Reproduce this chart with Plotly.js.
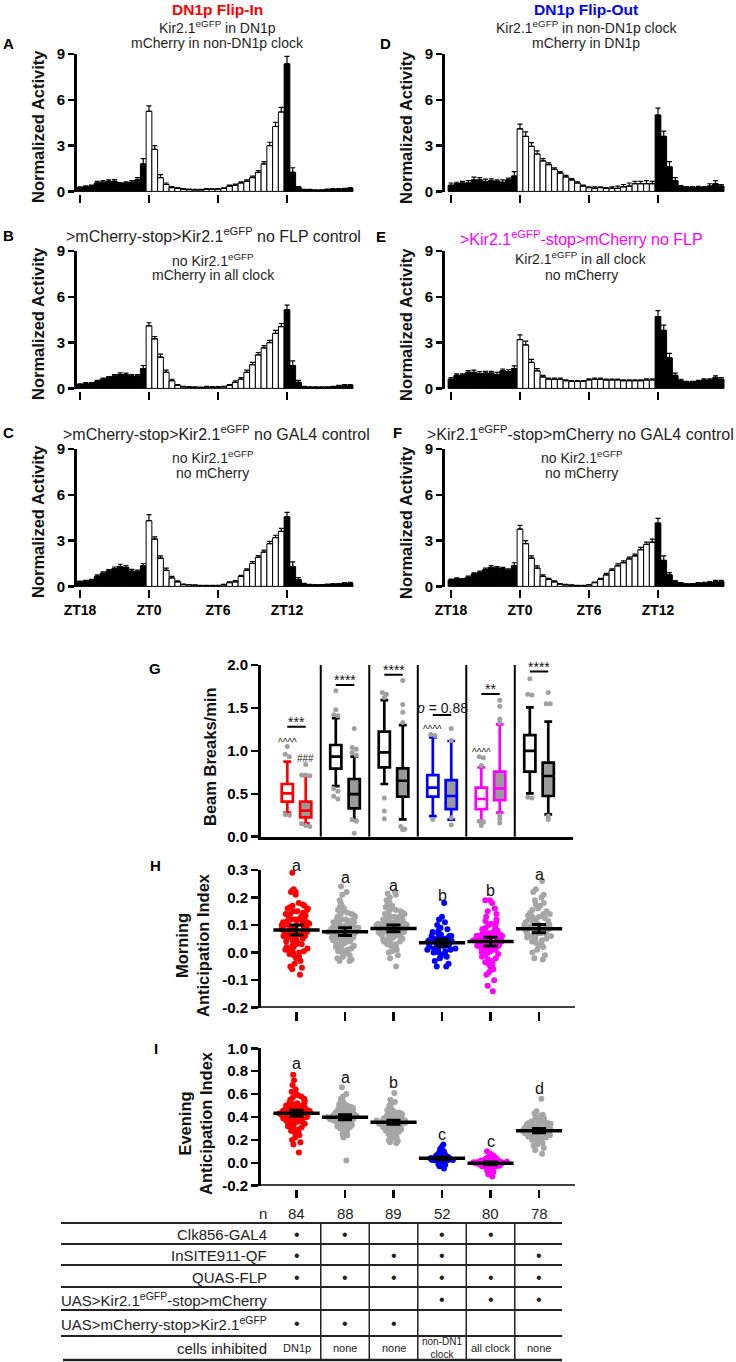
<!DOCTYPE html>
<html><head><meta charset="utf-8">
<script src="https://cdn.plot.ly/plotly-3.0.1.min.js"></script>
<style>html,body{margin:0;padding:0;background:#fff}#chart{width:736px;height:1362px}</style>
</head><body><div id="chart"></div>
<script>
// ---------------- DATA ----------------
// 30-min bins, hours relative to ZT0 (ZT18 = -6)
const binZT = [-6,-5.5,-5,-4.5,-4,-3.5,-3,-2.5,-2,-1.5,-1,-0.5,0,0.5,1,1.5,2,2.5,3,3.5,4,4.5,5,5.5,6,6.5,7,7.5,8,8.5,9,9.5,10,10.5,11,11.5,12,12.5,13,13.5,14,14.5,15,15.5,16,16.5,17,17.5];
const ztTickVals = [-6,0,6,12];
const ztTickText = ['ZT18','ZT0','ZT6','ZT12'];

const actA = [0.25,0.3,0.35,0.55,0.6,0.65,0.65,0.5,0.55,0.6,0.75,1.8, 5.25,2.75,0.9,0.45,0.25,0.2,0.15,0.12,0.1,0.1,0.15,0.15, 0.15,0.2,0.35,0.4,0.55,0.65,0.9,1.25,1.8,3.0,4.25,5.2, 8.35,1.25,0.25,0.1,0.1,0.08,0.08,0.12,0.15,0.15,0.15,0.2];
const errA = [0.05,0.06,0.06,0.1,0.1,0.1,0.12,0.08,0.08,0.1,0.15,0.35, 0.35,0.25,0.2,0.1,0.06,0.05,0.04,0.03,0.03,0.03,0.03,0.03, 0.03,0.04,0.06,0.07,0.08,0.1,0.1,0.12,0.15,0.22,0.28,0.3, 0.5,0.3,0.06,0.03,0.03,0.02,0.02,0.03,0.04,0.04,0.05,0.05];
const actD = [0.4,0.5,0.55,0.55,0.75,0.75,0.65,0.7,0.65,0.6,0.75,1.0, 4.1,3.6,2.95,2.45,2.0,1.75,1.45,1.2,0.95,0.75,0.55,0.35, 0.25,0.2,0.25,0.2,0.2,0.2,0.3,0.35,0.5,0.5,0.5,0.5, 5.0,3.6,1.6,0.7,0.3,0.25,0.25,0.25,0.25,0.35,0.5,0.35];
const errD = [0.15,0.1,0.1,0.15,0.18,0.15,0.15,0.12,0.1,0.15,0.12,0.3, 0.3,0.3,0.25,0.2,0.15,0.12,0.1,0.1,0.1,0.08,0.08,0.06, 0.05,0.1,0.05,0.05,0.1,0.15,0.15,0.2,0.15,0.15,0.2,0.15, 0.45,0.35,0.35,0.2,0.08,0.06,0.06,0.08,0.06,0.15,0.2,0.1];
const actB = [0.25,0.3,0.3,0.45,0.6,0.7,0.8,0.9,0.9,0.8,0.8,1.3, 4.1,3.25,2.05,1.05,0.5,0.2,0.1,0.08,0.08,0.05,0.08,0.08, 0.08,0.1,0.2,0.4,0.6,1.05,1.55,2.2,2.65,3.0,3.6,4.05, 5.15,1.5,0.4,0.1,0.08,0.08,0.08,0.08,0.1,0.15,0.2,0.2];
const errB = [0.05,0.08,0.08,0.08,0.08,0.08,0.1,0.12,0.1,0.1,0.1,0.2, 0.2,0.15,0.2,0.15,0.1,0.05,0.03,0.03,0.02,0.03,0.05,0.03, 0.03,0.03,0.05,0.1,0.1,0.15,0.15,0.15,0.15,0.15,0.2,0.2, 0.3,0.3,0.12,0.03,0.02,0.02,0.02,0.02,0.03,0.05,0.05,0.05];
const actE = [0.6,0.85,0.85,1.05,1.05,0.95,1.0,1.0,0.9,1.15,1.1,1.3, 3.2,2.85,1.7,1.15,0.75,0.6,0.6,0.6,0.5,0.45,0.45,0.45, 0.55,0.6,0.6,0.55,0.55,0.55,0.5,0.5,0.5,0.5,0.55,0.55, 4.7,3.8,2.0,0.85,0.5,0.4,0.4,0.45,0.55,0.55,0.7,0.6];
const errE = [0.1,0.1,0.1,0.12,0.15,0.15,0.12,0.12,0.15,0.12,0.12,0.18, 0.3,0.25,0.2,0.15,0.1,0.08,0.08,0.08,0.06,0.06,0.06,0.06, 0.08,0.08,0.08,0.06,0.06,0.06,0.06,0.06,0.06,0.06,0.08,0.08, 0.4,0.35,0.3,0.15,0.1,0.06,0.06,0.08,0.08,0.08,0.12,0.1];
const actC = [0.3,0.35,0.4,0.65,0.85,1.0,1.15,1.3,1.25,1.0,0.95,1.35, 4.3,3.1,1.85,1.05,0.55,0.3,0.12,0.1,0.08,0.05,0.05,0.05, 0.05,0.1,0.25,0.3,0.65,1.05,1.5,1.9,2.25,2.8,3.2,3.6, 4.55,1.3,0.45,0.15,0.1,0.1,0.1,0.12,0.15,0.15,0.2,0.2];
const errC = [0.05,0.05,0.06,0.1,0.1,0.1,0.12,0.15,0.12,0.12,0.12,0.15, 0.4,0.15,0.15,0.15,0.1,0.06,0.03,0.02,0.02,0.02,0.02,0.02, 0.02,0.03,0.05,0.08,0.08,0.1,0.12,0.12,0.12,0.15,0.15,0.2, 0.3,0.3,0.12,0.05,0.03,0.02,0.02,0.03,0.03,0.04,0.05,0.06];
const actF = [0.4,0.5,0.45,0.6,0.8,0.9,1.1,1.25,1.2,1.15,1.05,1.35, 3.75,2.8,1.85,1.2,0.65,0.45,0.3,0.15,0.1,0.08,0.05,0.05, 0.1,0.25,0.45,0.75,1.05,1.35,1.55,1.8,2.0,2.4,2.75,2.9, 4.15,1.7,0.75,0.3,0.2,0.15,0.15,0.2,0.2,0.25,0.3,0.3];
const errF = [0.08,0.06,0.06,0.08,0.08,0.1,0.1,0.12,0.1,0.1,0.1,0.2, 0.25,0.2,0.15,0.15,0.1,0.08,0.06,0.04,0.03,0.02,0.02,0.02, 0.02,0.03,0.08,0.1,0.1,0.12,0.12,0.12,0.12,0.15,0.15,0.2, 0.3,0.3,0.15,0.08,0.05,0.04,0.04,0.05,0.06,0.06,0.1,0.1];

// Panel G: beam breaks/min, 12 boxes (group1 left, group1 right, ...)
const bbLow = [0.28,0.155,0.59,0.194,0.614,0.202,0.24,0.2,0.183,0.28,0.505,0.26];
const bbQ1  = [0.408,0.225,0.792,0.33,0.808,0.466,0.466,0.322,0.322,0.427,0.757,0.474];
const bbMed = [0.505,0.303,0.932,0.497,0.983,0.652,0.571,0.474,0.439,0.563,1.0,0.707];
const bbQ3  = [0.614,0.408,1.068,0.672,1.223,0.796,0.718,0.66,0.571,0.757,1.184,0.862];
const bbUp  = [0.874,0.707,1.38,0.932,1.59,1.30,1.157,1.115,0.808,1.309,1.507,1.34];
const bbOut = [
  [1.05,0.96,0.93,0.26,0.25],
  [0.84,0.72,0.72,0.71,0.15,0.13,0.12],
  [1.70,1.48,1.42,1.41,0.56,0.53,0.47,0.44],
  [1.26,1.04,1.02,0.98,0.95,0.20,0.18,0.04],
  [1.68,1.66,1.62,0.45,0.30,0.21],
  [1.82,1.54,1.45,1.33,0.12,0.09,0.08],
  [1.19,1.18,0.20],
  [1.26,1.12,0.22,0.14],
  [0.93,0.92,0.83,0.18,0.17,0.13],
  [1.59,1.52,1.37,1.33,0.25,0.21,0.16],
  [1.84,1.66,1.65,0.46,0.45],
  [1.68,1.55,1.55,0.24,0.20]
];
const sigText = ['***','****','****','<i>p</i> = 0.88','**','****'];
const sigLevel = [1.282,1.768,1.885,1.418,1.663,1.923];

// Panel H: morning anticipation index
const morning = [
 [0.29,0.23,0.225,0.22,0.22,0.21,0.18,0.175,0.17,0.17, 0.165,0.16,0.16,0.155,0.15,0.15,0.145,0.14,0.14,0.135, 0.13,0.13,0.125,0.12,0.12,0.115,0.11,0.11,0.105,0.10, 0.10,0.10,0.095,0.09,0.09,0.09,0.085,0.08,0.08,0.08, 0.075,0.07,0.07,0.07,0.065,0.06,0.06,0.06,0.055,0.05, 0.05,0.05,0.045,0.04,0.04,0.035,0.03,0.03,0.025,0.02, 0.02,0.015,0.01,0.01,0.005,0.0,0.0,-0.005,-0.01,-0.015, -0.02,-0.03,-0.04,-0.05,-0.055,-0.06,-0.08,0.12,0.085,0.1, 0.075,0.065,0.11,0.095],
 [0.24,0.22,0.21,0.19,0.18,0.17,0.165,0.16,0.155,0.15, 0.145,0.14,0.14,0.135,0.13,0.13,0.125,0.12,0.12,0.115, 0.11,0.11,0.105,0.10,0.10,0.10,0.095,0.095,0.09,0.09, 0.09,0.085,0.085,0.08,0.08,0.08,0.08,0.075,0.075,0.07, 0.07,0.07,0.065,0.065,0.06,0.06,0.06,0.055,0.055,0.05, 0.05,0.05,0.045,0.045,0.04,0.04,0.035,0.035,0.03,0.03, 0.025,0.02,0.02,0.015,0.01,0.01,0.005,0.0,0.0,-0.005, -0.01,-0.015,-0.02,-0.025,-0.03,-0.03,0.07,0.085,0.06,0.1, 0.11,0.075,0.065,0.045,0.09,0.12,0.08,0.05],
 [0.22,0.215,0.21,0.2,0.19,0.185,0.18,0.175,0.17,0.165, 0.16,0.155,0.15,0.15,0.145,0.14,0.14,0.135,0.13,0.13, 0.125,0.12,0.12,0.115,0.115,0.11,0.11,0.105,0.105,0.10, 0.10,0.10,0.095,0.095,0.09,0.09,0.09,0.085,0.085,0.08, 0.08,0.08,0.075,0.075,0.07,0.07,0.07,0.065,0.065,0.06, 0.06,0.055,0.055,0.05,0.05,0.045,0.04,0.04,0.035,0.03, 0.03,0.025,0.02,0.015,0.01,0.005,0.0,-0.01,-0.02,-0.05, 0.1,0.09,0.08,0.07,0.11,0.12,0.06,0.095,0.085,0.075, 0.105,0.065,0.13,0.05,0.14,0.09,0.1,0.08,0.07],
 [0.18,0.13,0.12,0.11,0.1,0.09,0.085,0.08,0.075,0.07, 0.065,0.06,0.06,0.055,0.05,0.05,0.045,0.04,0.04,0.035, 0.035,0.03,0.03,0.025,0.025,0.02,0.02,0.015,0.015,0.01, 0.01,0.005,0.0,0.0,-0.005,-0.01,-0.015,-0.02,-0.03,-0.04, -0.05,-0.05,0.045,0.03,0.02,0.04,0.055,0.035,0.025,0.01, 0.05,0.06],
 [0.19,0.19,0.18,0.16,0.15,0.14,0.13,0.12,0.115,0.11, 0.105,0.1,0.095,0.09,0.085,0.08,0.08,0.075,0.07,0.07, 0.065,0.06,0.06,0.055,0.05,0.05,0.045,0.045,0.04,0.04, 0.035,0.035,0.03,0.03,0.025,0.025,0.02,0.02,0.015,0.01, 0.01,0.005,0.0,0.0,-0.005,-0.01,-0.015,-0.02,-0.025,-0.03, -0.035,-0.04,-0.045,-0.05,-0.06,-0.07,-0.08,-0.1,-0.12,-0.14, 0.05,0.04,0.03,0.06,0.02,0.07,0.0,0.045,0.035,0.055, 0.025,0.065,0.015,0.04,0.05,0.03,0.06,0.08,0.01,0.045],
 [0.26,0.23,0.22,0.21,0.2,0.19,0.18,0.175,0.17,0.16, 0.155,0.15,0.145,0.14,0.135,0.13,0.13,0.125,0.12,0.115, 0.11,0.11,0.105,0.1,0.1,0.095,0.095,0.09,0.09,0.085, 0.085,0.08,0.08,0.075,0.075,0.07,0.07,0.065,0.06,0.06, 0.055,0.05,0.045,0.04,0.035,0.03,0.025,0.02,0.01,0.0, -0.01,-0.02,-0.025,0.1,0.09,0.08,0.11,0.07,0.12,0.06, 0.13,0.085,0.095,0.075,0.14,0.05,0.105,0.065]
];
const morningMean = [0.082,0.076,0.088,0.036,0.040,0.087];
const morningSem  = [0.018,0.014,0.012,0.013,0.016,0.015];
const morningLetters = ['a','a','a','b','b','a'];
const morningLetterY = [0.318,0.271,0.245,0.207,0.224,0.285];

// Panel I: evening anticipation index
const evening = [
 [0.77,0.72,0.68,0.64,0.62,0.6,0.59,0.58,0.57,0.56, 0.55,0.54,0.53,0.53,0.52,0.51,0.5,0.5,0.49,0.49, 0.48,0.48,0.47,0.47,0.46,0.46,0.45,0.45,0.45,0.44, 0.44,0.44,0.43,0.43,0.43,0.42,0.42,0.42,0.41,0.41, 0.41,0.4,0.4,0.4,0.39,0.39,0.38,0.38,0.37,0.37, 0.36,0.36,0.35,0.35,0.34,0.33,0.32,0.31,0.3,0.29, 0.28,0.27,0.26,0.25,0.24,0.22,0.2,0.18,0.16,0.09, 0.46,0.44,0.43,0.42,0.4,0.39,0.47,0.45,0.41,0.38, 0.5,0.36,0.48,0.34],
 [0.66,0.6,0.58,0.56,0.55,0.54,0.53,0.52,0.51,0.5, 0.49,0.48,0.47,0.47,0.46,0.45,0.45,0.44,0.44,0.43, 0.43,0.42,0.42,0.41,0.41,0.41,0.4,0.4,0.4,0.39, 0.39,0.39,0.38,0.38,0.38,0.37,0.37,0.37,0.36,0.36, 0.35,0.35,0.34,0.34,0.33,0.32,0.31,0.3,0.29,0.28, 0.27,0.26,0.25,0.24,0.22,0.02,0.4,0.41,0.39,0.38, 0.42,0.37,0.43,0.36,0.44,0.35,0.4,0.39,0.45,0.34, 0.41,0.38,0.46,0.33,0.42,0.37,0.48,0.31,0.4,0.39, 0.43,0.36,0.3,0.5,0.29,0.47,0.38,0.42],
 [0.61,0.55,0.53,0.52,0.5,0.49,0.48,0.47,0.46,0.45, 0.44,0.43,0.43,0.42,0.41,0.41,0.4,0.4,0.39,0.39, 0.38,0.38,0.37,0.37,0.37,0.36,0.36,0.36,0.35,0.35, 0.35,0.34,0.34,0.34,0.33,0.33,0.33,0.32,0.32,0.31, 0.31,0.3,0.3,0.29,0.29,0.28,0.27,0.26,0.25,0.24, 0.23,0.22,0.21,0.2,0.19,0.18,0.17,0.36,0.35,0.34, 0.37,0.33,0.38,0.32,0.39,0.31,0.4,0.3,0.35,0.36, 0.34,0.42,0.28,0.44,0.27,0.37,0.33,0.46,0.25,0.35, 0.36,0.38,0.32,0.41,0.29,0.34,0.37,0.31,0.39],
 [0.16,0.14,0.12,0.1,0.09,0.08,0.075,0.07,0.065,0.06, 0.055,0.05,0.05,0.045,0.045,0.04,0.04,0.04,0.035,0.035, 0.035,0.03,0.03,0.03,0.025,0.025,0.02,0.02,0.015,0.01, 0.005,0.0,-0.01,-0.02,-0.03,-0.05,0.04,0.03,0.035,0.045, 0.025,0.05,0.02,0.04,0.03,0.06,0.015,0.035,0.045,0.03, 0.04,0.025],
 [0.1,0.08,0.07,0.06,0.05,0.045,0.04,0.035,0.03,0.025, 0.02,0.02,0.015,0.015,0.01,0.01,0.005,0.005,0.0,0.0, 0.0,-0.005,-0.005,-0.01,-0.01,-0.01,-0.015,-0.015,-0.02,-0.02, -0.025,-0.025,-0.03,-0.03,-0.035,-0.04,-0.045,-0.05,-0.06,-0.07, -0.08,-0.1,-0.12,0.0,-0.005,0.005,-0.01,0.01,-0.015,0.015, -0.02,0.02,0.0,-0.005,0.005,-0.01,0.01,-0.02,0.025,-0.03, 0.0,-0.005,0.005,-0.01,0.01,-0.015,0.015,-0.025,0.03,-0.035, 0.0,0.005,-0.005,-0.01,0.01,-0.015,-0.02,0.02,-0.04,0.035],
 [0.56,0.45,0.43,0.42,0.41,0.4,0.39,0.38,0.37,0.36, 0.35,0.35,0.34,0.34,0.33,0.33,0.32,0.32,0.31,0.31, 0.3,0.3,0.3,0.29,0.29,0.29,0.28,0.28,0.28,0.27, 0.27,0.27,0.26,0.26,0.25,0.25,0.24,0.24,0.23,0.23, 0.22,0.21,0.2,0.19,0.18,0.17,0.16,0.15,0.13,0.11, 0.08,0.28,0.29,0.27,0.3,0.26,0.31,0.25,0.32,0.24, 0.33,0.28,0.27,0.29,0.35,0.22,0.36,0.2]
];
const eveningMean = [0.433,0.398,0.354,0.039,-0.005,0.281];
const eveningSem  = [0.025,0.022,0.018,0.012,0.012,0.018];
const eveningLetters = ['a','a','b','c','c','d'];
const eveningLetterY = [0.863,0.747,0.70,0.243,0.184,0.645];

const nFlies = ['84','88','89','52','80','78'];
const tableRows = ['Clk856-GAL4','InSITE911-QF','QUAS-FLP','UAS&gt;Kir2.1<sup>eGFP</sup>-stop&gt;mCherry','UAS&gt;mCherry-stop&gt;Kir2.1<sup>eGFP</sup>'];
const tableMarks = [
  [1,1,0,1,1,0],
  [1,0,1,1,0,1],
  [1,1,1,1,1,1],
  [0,0,0,1,1,1],
  [1,1,1,0,0,0]
];
const cellsInhibited = ['DN1p','none','none','non-DN1<br>clock','all clock','none'];

// ---------------- STYLE / LAYOUT ----------------
const W = 736, H = 1362;
const F = 'Liberation Sans, Arial, Helvetica, sans-serif';
const px = v => v / W;
const py = v => 1 - v / H;
const axName = id => id.replace(/^x/, 'xaxis').replace(/^y/, 'yaxis');

const traces = [];
const layout = {
  width: W, height: H, margin: {l:0, r:0, t:0, b:0},
  paper_bgcolor: '#fff', plot_bgcolor: 'rgba(0,0,0,0)',
  showlegend: false, boxmode: 'overlay',
  font: {family: F, color: '#000'},
  annotations: [], shapes: []
};
function ann(text, x, y, o) {
  const a = Object.assign({text, x: px(x), y: py(y), xref:'paper', yref:'paper', showarrow:false,
    xanchor:'center', yanchor:'middle'}, o || {});
  a.font = Object.assign({family: F, size: 14, color: '#1e1e1e'}, (o && o.font) || {});
  layout.annotations.push(a);
}
// value on a y axis -> paper coordinate (so labels above the range still show)
function yPaper(ax, v) {
  const d = ax.domain, r = ax.range;
  return d[0] + (v - r[0]) / (r[1] - r[0]) * (d[1] - d[0]);
}

// ----- bar panels A-F -----
const barPanels = [
  {xa:'x',  ya:'y',  vals:actA, errs:errA, l:77,  r:353.7, xmin:-6.26, top:54,  bot:192, labels:false},
  {xa:'x2', ya:'y2', vals:actD, errs:errD, l:445, r:724.7, xmin:-6.52, top:54,  bot:192, labels:false},
  {xa:'x3', ya:'y3', vals:actB, errs:errB, l:77,  r:353.7, xmin:-6.26, top:251, bot:389, labels:false},
  {xa:'x4', ya:'y4', vals:actE, errs:errE, l:445, r:724.7, xmin:-6.52, top:251, bot:389, labels:false},
  {xa:'x5', ya:'y5', vals:actC, errs:errC, l:77,  r:353.7, xmin:-6.26, top:449, bot:587, labels:true},
  {xa:'x6', ya:'y6', vals:actF, errs:errF, l:445, r:724.7, xmin:-6.52, top:449, bot:587, labels:true}
];
barPanels.forEach(p => {
  traces.push({
    type:'bar', x: binZT, y: p.vals, xaxis: p.xa, yaxis: p.ya, width: 0.5,
    marker: {color: binZT.map(t => (t >= 0 && t < 12) ? '#ffffff' : '#000000'), line: {color:'#000', width:1}},
    error_y: {type:'data', symmetric:false, array: p.errs, arrayminus: p.errs.map(() => 0), color:'#000', thickness:1.2, width:2.5},
    hoverinfo:'skip'
  });
  layout[axName(p.xa)] = {
    domain: [px(p.l), px(p.r)], range: [p.xmin, 17.8], anchor:'free', position: py(p.bot + 2),
    tickvals: ztTickVals, ticktext: ztTickText, showticklabels: p.labels,
    ticks:'outside', ticklen:8, tickwidth:2.5, tickcolor:'#000',
    showline:false, showgrid:false, zeroline:false,
    tickfont: {family:F, size:14, weight:'bold', color:'#000'}
  };
  layout[axName(p.ya)] = {
    domain: [py(p.bot), py(p.top)], range: [-0.04, 9], anchor: p.xa,
    tickvals: [0,3,6,9], ticks:'outside', ticklen:6, tickwidth:2.5, tickcolor:'#000',
    showline:true, linewidth:3, linecolor:'#000', showgrid:false, zeroline:false,
    tickfont: {family:F, size:15, weight:'bold', color:'#000'}
  };
  ann('Normalized Activity', p.l - 39, (p.top + p.bot) / 2 + 4, {textangle:-90, font:{size:16.5, weight:'bold', color:'#111'}});
});

// panel titles
ann('DN1p Flip-In', 217, 9, {font:{size:15.5, weight:'bold', color:'#ff0000'}});
ann('Kir2.1<sup>eGFP</sup> in DN1p', 217, 27, {font:{size:14}});
ann('mCherry in non-DN1p clock', 217, 43, {font:{size:14}});
ann('DN1p Flip-Out', 586, 9, {font:{size:15.5, weight:'bold', color:'#0000ff'}});
ann('Kir2.1<sup>eGFP</sup> in non-DN1p clock', 586, 27, {font:{size:14}});
ann('mCherry in DN1p', 586, 43, {font:{size:14}});
ann('&gt;mCherry-stop&gt;Kir2.1<sup>eGFP</sup> no FLP control', 213, 235, {font:{size:16}});
ann('no Kir2.1<sup>eGFP</sup>', 213, 260, {font:{size:14}});
ann('mCherry in all clock', 213, 275, {font:{size:14}});
ann('&gt;Kir2.1<sup>eGFP</sup>-stop&gt;mCherry no FLP', 581, 238, {font:{size:16, color:'#ff00ff'}});
ann('Kir2.1<sup>eGFP</sup> in all clock', 581, 258, {font:{size:14}});
ann('no mCherry', 581, 275, {font:{size:14}});
ann('&gt;mCherry-stop&gt;Kir2.1<sup>eGFP</sup> no GAL4 control', 216, 433, {font:{size:16}});
ann('no Kir2.1<sup>eGFP</sup>', 213, 457, {font:{size:14}});
ann('no mCherry', 212, 473, {font:{size:14}});
ann('&gt;Kir2.1<sup>eGFP</sup>-stop&gt;mCherry no GAL4 control', 580, 433, {font:{size:16}});
ann('no Kir2.1<sup>eGFP</sup>', 582, 457, {font:{size:14}});
ann('no mCherry', 581, 473, {font:{size:14}});

// panel letters
[['A',8,43],['B',8,235],['C',8,433],['D',385,43],['E',381,236],['F',397,433],['G',155,668],['H',155,866],['I',156,1048]]
  .forEach(([t,x,y]) => ann(t, x, y, {font:{size:15, weight:'bold', color:'#000'}}));

// ----- shared x layout for G/H/I -----
const gx = {domain:[px(261), px(573)], range:[0.268, 6.70], showgrid:false, zeroline:false};
const groupPos = [1,2,3,4,5,6];
const gColors = ['#ff0000','#000000','#000000','#0000ff','#ff00ff','#000000'];
const dotColors = ['#ff0000','#a6a6a6','#a6a6a6','#0000ff','#ff00ff','#a6a6a6'];
const yTickFont = {family:F, size:15, weight:'bold', color:'#000'};

// ----- panel G -----
layout.xaxis7 = Object.assign({}, gx, {anchor:'y7', showline:true, linewidth:3, linecolor:'#000', ticks:'', showticklabels:false});
layout.yaxis7 = {domain:[py(836.7), py(665)], range:[0, 2.0], anchor:'x7',
  tickvals:[0,0.5,1,1.5,2], ticktext:['0.0','0.5','1.0','1.5','2.0'],
  ticks:'outside', ticklen:7, tickwidth:2.5, tickcolor:'#000', showline:true, linewidth:3, linecolor:'#000',
  showgrid:false, zeroline:false, tickfont:yTickFont};
const outX = [], outY = [];
for (let b = 0; b < 12; b++) {
  const g = Math.floor(b / 2), side = b % 2;
  const pos = groupPos[g] + (side ? 0.19 : -0.19);
  traces.push({type:'box', x:[pos], q1:[bbQ1[b]], median:[bbMed[b]], q3:[bbQ3[b]],
    lowerfence:[bbLow[b]], upperfence:[bbUp[b]], width:0.23, whiskerwidth:0.7,
    line:{color:gColors[g], width:2.7}, fillcolor: side ? '#9a9a9a' : '#ffffff',
    boxpoints:false, xaxis:'x7', yaxis:'y7', hoverinfo:'skip'});
  // spread near-identical outliers side by side
  const vals = bbOut[b].slice().sort((a, c) => c - a);
  let i = 0;
  while (i < vals.length) {
    let j = i;
    while (j + 1 < vals.length && vals[i] - vals[j + 1] < 0.035) j++;
    const k = j - i + 1;
    for (let m = i; m <= j; m++) { outX.push(pos + (m - i - (k - 1) / 2) * 0.085); outY.push(vals[m]); }
    i = j + 1;
  }
}
traces.push({type:'scatter', mode:'markers', x:outX, y:outY, xaxis:'x7', yaxis:'y7',
  marker:{color:'#a0a0a0', size:5}, hoverinfo:'skip', cliponaxis:false});
for (let g = 1; g < 6; g++) {
  layout.shapes.push({type:'line', xref:'x7', yref:'y7', x0:g + 0.5, x1:g + 0.5, y0:0, y1:2.0, line:{color:'#000', width:2}});
}
groupPos.forEach((g, i) => {
  layout.shapes.push({type:'line', xref:'x7', yref:'y7', x0:g - 0.19, x1:g + 0.19, y0:sigLevel[i], y1:sigLevel[i], line:{color:'#000', width:2}});
  const isP = i === 3;
  layout.annotations.push({text:sigText[i], xref:'x7', yref:'paper', x:g, y:yPaper(layout.yaxis7, sigLevel[i]), showarrow:false,
    xanchor:'center', yanchor:'bottom', yshift: isP ? -3 : -5,
    font:{family:F, size:14, color:'#111'}});
});
[['^^^^', 1 - 0.19, 1.10], ['###', 1 + 0.19, 0.91], ['^^^^', 4 - 0.19, 1.25], ['^^^^', 5 - 0.19, 0.975]]
  .forEach(([t, x, y]) => layout.annotations.push({text:t, xref:'x7', yref:'paper', x, y:yPaper(layout.yaxis7, y), showarrow:false,
    xanchor:'center', yanchor:'middle', font:{family:F, size:10, color:'#222'}}));
ann('Beam Breaks/min', 210, 757, {textangle:-90, font:{size:16.5, weight:'bold', color:'#111'}});

// ----- panels H and I (individual flies, mean ± SEM) -----
function swarmPanel(xa, ya, yax, data, means, sems, letters, letterY) {
  data.forEach((vals, g) => {
    traces.push({type:'box', x0: groupPos[g], y: vals, xaxis: xa, yaxis: ya,
      boxpoints:'all', jitter:1, pointpos:0, width:0.72, whiskerwidth:0,
      fillcolor:'rgba(0,0,0,0)', line:{color:'rgba(0,0,0,0)', width:0},
      marker:{color: dotColors[g], size:6}, hoverinfo:'skip'});
  });
  traces.push({type:'scatter', mode:'markers', x: groupPos, y: means, xaxis: xa, yaxis: ya,
    marker:{symbol:'line-ew', size:33, color:'#000', line:{color:'#000', width:3.5}},
    error_y:{type:'data', array: sems, color:'#000', thickness:3, width:7},
    hoverinfo:'skip', cliponaxis:false});
  groupPos.forEach((g, i) => layout.annotations.push({text: letters[i], xref: xa, yref: 'paper', x: g, y: yPaper(yax, letterY[i]),
    showarrow:false, xanchor:'center', yanchor:'middle', font:{family:F, size:16, color:'#111'}}));
}
layout.xaxis8 = Object.assign({}, gx, {anchor:'free', position: py(1011), showline:false,
  tickvals: groupPos, showticklabels:false, ticks:'outside', ticklen:9, tickwidth:2.5, tickcolor:'#000'});
layout.yaxis8 = {domain:[py(1007.7), py(870)], range:[-0.2, 0.3], anchor:'x8',
  tickvals:[-0.2,-0.1,0,0.1,0.2,0.3], ticktext:['-0.2','-0.1','0.0','0.1','0.2','0.3'],
  ticks:'outside', ticklen:7, tickwidth:2.5, tickcolor:'#000', showline:true, linewidth:3, linecolor:'#000',
  showgrid:false, zeroline:false, tickfont:yTickFont};
layout.shapes.push({type:'line', xref:'paper', yref:'y8', x0:px(259.5), x1:px(575), y0:-0.2, y1:-0.2, line:{color:'#000', width:3}});
swarmPanel('x8', 'y8', layout.yaxis8, morning, morningMean, morningSem, morningLetters, morningLetterY);
ann('Morning<br>Anticipation Index', 193, 945, {textangle:-90, font:{size:16.5, weight:'bold', color:'#111'}});

layout.xaxis9 = Object.assign({}, gx, {anchor:'free', position: py(1188.5), showline:false,
  tickvals: groupPos, showticklabels:false, ticks:'outside', ticklen:8.5, tickwidth:2.5, tickcolor:'#000'});
layout.yaxis9 = {domain:[py(1185.7), py(1048.3)], range:[-0.2, 1.0], anchor:'x9',
  tickvals:[-0.2,0,0.2,0.4,0.6,0.8,1.0], ticktext:['-0.2','0.0','0.2','0.4','0.6','0.8','1.0'],
  ticks:'outside', ticklen:7, tickwidth:2.5, tickcolor:'#000', showline:true, linewidth:3, linecolor:'#000',
  showgrid:false, zeroline:false, tickfont:yTickFont};
layout.shapes.push({type:'line', xref:'paper', yref:'y9', x0:px(259.5), x1:px(575), y0:-0.2, y1:-0.2, line:{color:'#000', width:3}});
swarmPanel('x9', 'y9', layout.yaxis9, evening, eveningMean, eveningSem, eveningLetters, eveningLetterY);
ann('Evening<br>Anticipation Index', 195, 1123, {textangle:-90, font:{size:16.5, weight:'bold', color:'#111'}});

// ----- n row and genotype table -----
ann('n', 263, 1213, {font:{size:15}});
groupPos.forEach((g, i) => layout.annotations.push({text:nFlies[i], xref:'x9', yref:'paper', x:g, y:py(1213),
  showarrow:false, xanchor:'center', yanchor:'middle', font:{family:F, size:15, color:'#1e1e1e'}}));
const hLines = [1223, 1244, 1265, 1287, 1310, 1336];
hLines.forEach(y => layout.shapes.push({type:'line', xref:'paper', yref:'paper', x0:px(61), x1:px(562), y0:py(y), y1:py(y), line:{color:'#222', width:2}}));
layout.shapes.push({type:'line', xref:'paper', yref:'paper', x0:px(63), x1:px(562), y0:py(1360), y1:py(1360), line:{color:'#222', width:2.5}});
for (let g = 1; g < 6; g++) {
  layout.shapes.push({type:'line', xref:'x9', yref:'paper', x0:g + 0.5, x1:g + 0.5, y0:py(1223), y1:py(1360), line:{color:'#222', width:1.5}});
}
const rowY = [1234, 1255, 1277, 1299, 1323];
tableRows.forEach((t, r) => {
  ann(t, 269, rowY[r], {xanchor:'right', font:{size:15, color:'#222'}});
  tableMarks[r].forEach((m, c) => {
    if (m) layout.annotations.push({text:'•', xref:'x9', yref:'paper', x:groupPos[c], y:py(rowY[r]),
      showarrow:false, xanchor:'center', yanchor:'middle', font:{family:F, size:16, color:'#222'}});
  });
});
ann('cells inhibited', 269, 1348, {xanchor:'right', font:{size:15, color:'#222'}});
cellsInhibited.forEach((t, c) => layout.annotations.push({text:t, xref:'x9', yref:'paper', x:groupPos[c], y:py(1348),
  showarrow:false, xanchor:'center', yanchor:'middle', font:{family:F, size: t.includes('<br>') ? 10 : 11, color:'#222'}}));

Plotly.newPlot('chart', traces, layout, {staticPlot:true, displayModeBar:false});
</script>
</body></html>
